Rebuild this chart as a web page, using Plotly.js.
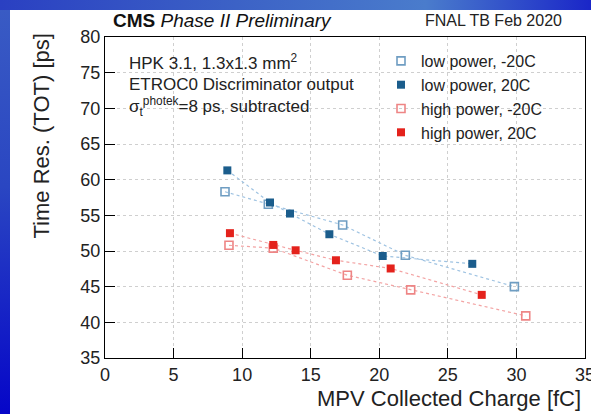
<!DOCTYPE html>
<html>
<head>
<meta charset="utf-8">
<script src="https://cdn.plot.ly/plotly-3.0.1.min.js"></script>
<style>
  html, body { margin: 0; padding: 0; }
  body { width: 591px; height: 414px; overflow: hidden; position: relative;
         background: linear-gradient(to bottom, #3a5cc4 0%, #2a46c2 45%, #0606c8 100%); }
  #topstrip { position: absolute; left: 0; top: 0; width: 591px; height: 10px;
         background: linear-gradient(to right, #2a40c2 0%, #3c62c6 40%, #4a7ccc 72%, #1a26c8 100%); }
  #chart { position: absolute; left: 10px; top: 10px; width: 581px; height: 404px; }
</style>
</head>
<body>
<div id="topstrip"></div>
<div id="chart"></div>
<script>
// ---- data ----
const lowPowerM20_x = [8.75, 11.91, 17.33, 21.9, 29.85];
const lowPowerM20_y = [58.3, 56.55, 53.65, 49.4, 45.0];

const lowPower20_x = [8.92, 12.03, 13.49, 16.36, 20.25, 26.78];
const lowPower20_y = [61.3, 56.8, 55.25, 52.35, 49.3, 48.2];

const highPowerM20_x = [9.04, 12.27, 17.67, 22.29, 30.68];
const highPowerM20_y = [50.8, 50.4, 46.6, 44.55, 40.9];

const highPower20_x = [9.11, 12.27, 13.9, 16.84, 20.83, 27.47];
const highPower20_y = [52.5, 50.85, 50.1, 48.7, 47.55, 43.85];

const seriesNames = ["low power, -20C", "low power, 20C", "high power, -20C", "high power, 20C"];
const xTitle = "MPV Collected Charge [fC]";
const yTitle = "Time Res. (TOT) [ps]";
const xRange = [0, 35];
const yRange = [35, 80];

// ---- styles ----
const FONT = "Liberation Sans, Arial, Helvetica, sans-serif";
const blueLine = "#9fc3e2", redLine = "#f3a3a3";
const series = [
  {x: lowPowerM20_x, y: lowPowerM20_y, name: seriesNames[0], line: blueLine,
   marker: {symbol: "square-open", size: 8, color: "#6f9dc2", line: {width: 1.6, color: "#6f9dc2"}}},
  {x: lowPower20_x, y: lowPower20_y, name: seriesNames[1], line: blueLine,
   marker: {symbol: "square", size: 8, color: "#1b5d8c", line: {width: 0}}},
  {x: highPowerM20_x, y: highPowerM20_y, name: seriesNames[2], line: redLine,
   marker: {symbol: "square-open", size: 8, color: "#ee8585", line: {width: 1.6, color: "#ee8585"}}},
  {x: highPower20_x, y: highPower20_y, name: seriesNames[3], line: redLine,
   marker: {symbol: "square", size: 8, color: "#e4221c", line: {width: 0}}}
];

const traces = [];
series.forEach(s => {
  traces.push({x: s.x, y: s.y, mode: "lines", showlegend: false,
               hoverinfo: "skip", line: {color: s.line, width: 1.2, dash: "dot"}});
});
series.forEach(s => {
  traces.push({x: s.x, y: s.y, mode: "markers", name: s.name, marker: s.marker});
});

// page-pixel helpers -> paper coordinates (plot area page x 105..585, y 37..358)
const PX0 = 105, PX1 = 585, PY0 = 37, PY1 = 358;
const W = PX1 - PX0, H = PY1 - PY0;
const px = v => (v - PX0) / W;
const py = v => (PY1 - v) / H;

const layout = {
  width: 581, height: 404,
  margin: {l: 95, r: 6, t: 27, b: 56},
  paper_bgcolor: "#ffffff", plot_bgcolor: "rgba(0,0,0,0)",
  font: {family: FONT, color: "#222"},
  xaxis: {
    range: xRange, tick0: 0, dtick: 5,
    showline: true, linecolor: "#000", linewidth: 1, mirror: true,
    ticks: "inside", ticklen: 10, tickwidth: 1, tickcolor: "#000",
    showgrid: true, gridcolor: "#cfcfcf", griddash: "dot", gridwidth: 1,
    zeroline: false, ticklabeloverflow: "allow",
    tickfont: {family: FONT, size: 18, color: "#222"}
  },
  yaxis: {
    range: yRange, tick0: 35, dtick: 5,
    showline: true, linecolor: "#000", linewidth: 1, mirror: true,
    ticks: "inside", ticklen: 10, tickwidth: 1, tickcolor: "#000",
    showgrid: true, gridcolor: "#cfcfcf", griddash: "dot", gridwidth: 1,
    zeroline: false,
    tickfont: {family: FONT, size: 18, color: "#222"}
  },
  showlegend: true,
  legend: {x: px(381), y: py(44), xanchor: "left", yanchor: "top",
           bgcolor: "rgba(0,0,0,0)", borderwidth: 0,
           font: {family: FONT, size: 16, color: "#222"}, tracegroupgap: 0},
  annotations: [
    {xref: "paper", yref: "paper", x: px(111), y: py(20), xanchor: "left", yanchor: "middle",
     showarrow: false, font: {family: FONT, size: 19, color: "#111"},
     text: "<b>CMS</b> <i>Phase II Preliminary</i>"},
    {xref: "paper", yref: "paper", x: px(564), y: py(20), xanchor: "right", yanchor: "middle",
     showarrow: false, font: {family: FONT, size: 16, color: "#222"},
     text: "FNAL TB Feb 2020"},
    {xref: "paper", yref: "paper", x: px(127), y: py(62), xanchor: "left", yanchor: "middle",
     showarrow: false, font: {family: FONT, size: 17, color: "#222"},
     text: "HPK 3.1, 1.3x1.3 mm<sup>2</sup>"},
    {xref: "paper", yref: "paper", x: px(127), y: py(84), xanchor: "left", yanchor: "middle",
     showarrow: false, font: {family: FONT, size: 17, color: "#222"},
     text: "ETROC0 Discriminator output"},
    {xref: "paper", yref: "paper", x: px(127), y: py(106), xanchor: "left", yanchor: "middle",
     showarrow: false, font: {family: FONT, size: 17, color: "#222"},
     text: "σ<sub>t</sub><sup style='font-size:9px'>photek</sup>=8 ps, subtracted"},
    {xref: "paper", yref: "paper", x: px(583), y: py(398), xanchor: "right", yanchor: "middle",
     showarrow: false, font: {family: FONT, size: 22, color: "#222"},
     text: xTitle},
    {xref: "paper", yref: "paper", x: px(41), y: py(32), xanchor: "center", yanchor: "top",
     textangle: -90, showarrow: false, font: {family: FONT, size: 22, color: "#222"},
     text: yTitle}
  ]
};

// ROOT-style tick marks: thin strip subplots along each frame edge whose black
// gridlines (major every 5, minor every 1) act as the inside tick marks.
const hidden = {showgrid: false, showticklabels: false, ticks: "", showline: false, zeroline: false, range: [0, 1], fixedrange: true};
function tickAxis(range, tick0, dtick) {
  return {range: range, tick0: tick0, dtick: dtick, showgrid: true, gridcolor: "#000", gridwidth: 1,
          showticklabels: false, ticks: "", showline: false, zeroline: false, fixedrange: true};
}
let k = 3;
function addStrip(kind, edge, len, dtick) {
  const xa = "xaxis" + k, ya = "yaxis" + k;
  if (kind === "x") {
    layout[xa] = Object.assign(tickAxis(xRange, 0, dtick), {anchor: "y" + k, domain: [0, 1]});
    const d = len / H;
    layout[ya] = Object.assign({}, hidden, {anchor: "x" + k, domain: edge === "bottom" ? [0, d] : [1 - d, 1]});
  } else {
    layout[ya] = Object.assign(tickAxis(yRange, 35, dtick), {anchor: "x" + k, domain: [0, 1]});
    const d = len / W;
    layout[xa] = Object.assign({}, hidden, {anchor: "y" + k, domain: edge === "left" ? [0, d] : [1 - d, 1]});
  }
  k++;
}
addStrip("x", "bottom", 10, 5); addStrip("x", "bottom", 5, 1);
addStrip("x", "top", 10, 5);    addStrip("x", "top", 5, 1);
addStrip("y", "left", 10, 5);   addStrip("y", "left", 5, 1);
addStrip("y", "right", 10, 5);  addStrip("y", "right", 5, 1);

Plotly.newPlot("chart", traces, layout, {displayModeBar: false});
</script>
</body>
</html>
